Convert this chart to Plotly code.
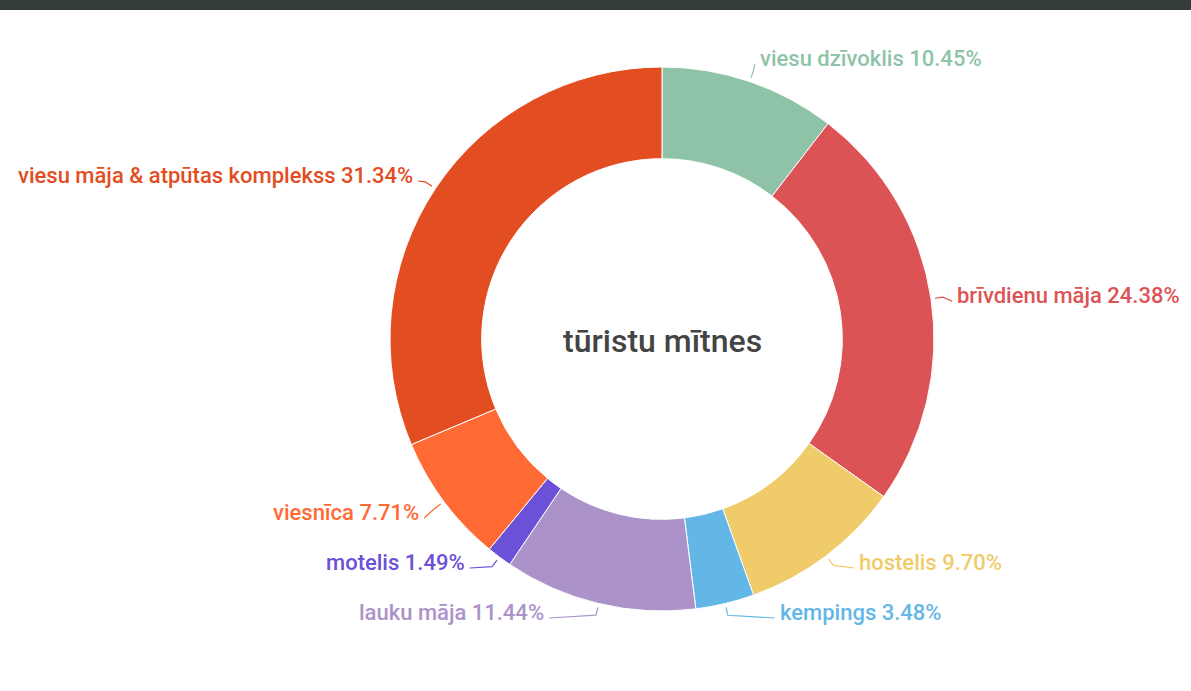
import math
import plotly.graph_objects as go

# ---- data ----
categories = [
    "viesu dzīvoklis",
    "brīvdienu māja",
    "hostelis",
    "kempings",
    "lauku māja",
    "motelis",
    "viesnīca",
    "viesu māja & atpūtas komplekss",
]
percent = [10.45, 24.38, 9.70, 3.48, 11.44, 1.49, 7.71, 31.34]
colors = ["#8fc3a8", "#dc5356", "#efcb6a", "#63b7e6", "#ab93c9", "#6c50d7", "#ff6a35", "#e24e22"]
center_title = "tūristu mītnes"

# ---- layout geometry ----
W, H = 1191, 691
CX, CY = 662, 339
R = 272
HOLE = 0.663
LABEL_R = 1.09
Y_LIMIT = CY + 273
MIN_GAP = 50
FONT = "Roboto"

total = sum(percent)
mids = []
cum = 0.0
for v in percent:
    mids.append((cum + v / 2) / total * 2 * math.pi)
    cum += v

labels = []
for i, a in enumerate(mids):
    side = 1 if math.sin(a) >= 0 else -1
    y = CY - LABEL_R * R * math.cos(a)
    labels.append({"i": i, "side": side, "y": y})

for side in (1, -1):
    items = sorted([l for l in labels if l["side"] == side], key=lambda l: -l["y"])
    prev = None
    for l in items:
        l["y"] = min(l["y"], Y_LIMIT)
        if prev is not None:
            l["y"] = min(l["y"], prev - MIN_GAP)
        prev = l["y"]

rr = LABEL_R * R
for l in labels:
    dy = l["y"] - CY
    dx = math.sqrt(max(rr * rr - dy * dy, 0))
    l["x"] = CX + l["side"] * dx

fig = go.Figure()

fig.add_trace(go.Pie(
    labels=categories,
    values=percent,
    marker=dict(colors=colors, line=dict(color="white", width=1)),
    hole=HOLE,
    sort=False,
    direction="clockwise",
    rotation=0,
    textinfo="none",
    hoverinfo="label+percent",
    showlegend=False,
    domain=dict(
        x=[(CX - R) / W, (CX + R) / W],
        y=[(H - CY - R) / H, (H - CY + R) / H],
    ),
))

annotations = []
for l in labels:
    i = l["i"]
    a = mids[i]
    side = l["side"]
    p0 = (CX + (R + 4) * math.sin(a), CY - (R + 4) * math.cos(a))
    p1 = (CX + (R + 12) * math.sin(a), CY - (R + 12) * math.cos(a))
    p2 = (l["x"] - side * 3, l["y"] + 6)
    fig.add_trace(go.Scatter(
        x=[p0[0], p1[0], p2[0]], y=[p0[1], p1[1], p2[1]],
        mode="lines", line=dict(color=colors[i], width=1.2),
        hoverinfo="skip", showlegend=False,
    ))
    annotations.append(dict(
        x=l["x"], y=l["y"], xref="x", yref="y",
        text=f"{categories[i]} {percent[i]:.2f}%",
        showarrow=False,
        xanchor="left" if side > 0 else "right",
        yanchor="middle",
        font=dict(family=FONT, size=22, color=colors[i], weight=500),
    ))

annotations.append(dict(
    x=CX, y=CY + 2, xref="x", yref="y", text=center_title, showarrow=False,
    xanchor="center", yanchor="middle",
    font=dict(family=FONT, size=32, color="#444444", weight=500),
))

fig.update_layout(
    width=W, height=H,
    margin=dict(l=0, r=0, t=0, b=0),
    paper_bgcolor="white", plot_bgcolor="rgba(0,0,0,0)",
    xaxis=dict(range=[0, W], visible=False, fixedrange=True),
    yaxis=dict(range=[H, 0], visible=False, fixedrange=True),
    annotations=annotations,
    shapes=[dict(type="rect", xref="paper", yref="paper", x0=0, x1=1,
                 y0=1 - 10 / H, y1=1, fillcolor="#333c3b", line=dict(width=0), layer="above")],
)

fig.write_html(
    "out.html",
    config={"displayModeBar": False},
    post_script="document.body.style.margin='0';document.body.style.overflow='hidden';",
)
